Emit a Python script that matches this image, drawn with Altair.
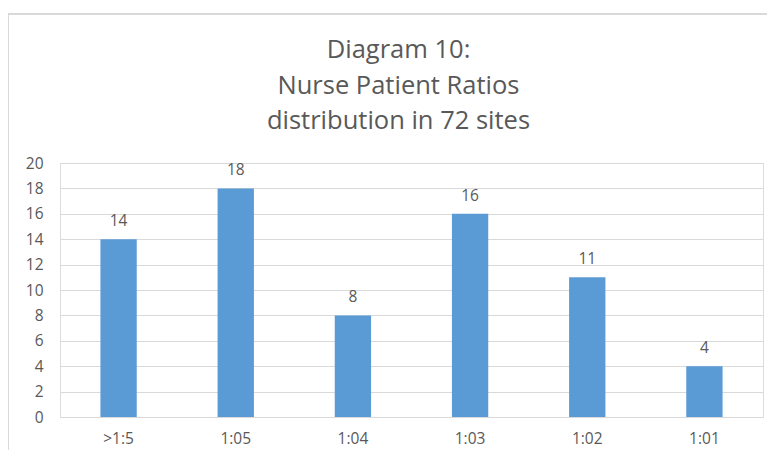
import altair as alt
import pandas as pd

categories = [">1:5", "1:05", "1:04", "1:03", "1:02", "1:01"]
counts = [14, 18, 8, 16, 11, 4]
title_lines = ["Diagram 10:", "Nurse Patient Ratios", "distribution in 72 sites"]
y_ticks = list(range(0, 21, 2))

df = pd.DataFrame({"ratio": categories, "sites": counts})

FONT = "Open Sans"
GREY = "#595959"
W, H = 703, 254

one = pd.DataFrame({"k": [0]})

frame = alt.Chart(one).mark_rect(
    fill=None, stroke="#D9D9D9", strokeWidth=2
).encode(
    x=alt.value(-52), x2=alt.value(W + 40),
    y=alt.value(-149), y2=alt.value(H + 60)
)

title = alt.Chart(one).mark_text(
    font=FONT, fontSize=25.5, color=GREY, lineHeight=35.5,
    align="center", baseline="alphabetic"
).encode(
    x=alt.value(W / 2 - 13), y=alt.value(-105),
    text=alt.value(title_lines)
)

base = alt.Chart(df).encode(
    x=alt.X("ratio:N", sort=categories, title=None,
            scale=alt.Scale(paddingInner=0.69, paddingOuter=0.345),
            axis=alt.Axis(labelAngle=0, labelFont=FONT, labelFontSize=15.5,
                          labelColor=GREY, labelPadding=14, ticks=False,
                          domain=False, grid=False)),
    y=alt.Y("sites:Q", title=None,
            scale=alt.Scale(domain=[0, 20]),
            axis=alt.Axis(values=y_ticks, labelFont=FONT, labelFontSize=15.5,
                          labelColor=GREY, labelPadding=17, ticks=False,
                          domain=False, grid=True, gridColor="#D9D9D9",
                          gridWidth=1)),
)

bars = base.mark_bar(color="#5B9BD5")
labels = base.mark_text(font=FONT, fontSize=15.5, color=GREY, dy=-13,
                        baseline="alphabetic").encode(text="sites:Q")

chart = alt.layer(frame, bars, labels, title).properties(
    width=W, height=H,
    autosize=alt.AutoSizeParams(type="none"),
    padding={"left": 52, "top": 155, "right": 4, "bottom": 33},
).configure_view(stroke=None).configure(background="white")

chart.save("out.html", embed_options={"renderer": "svg", "actions": False})
